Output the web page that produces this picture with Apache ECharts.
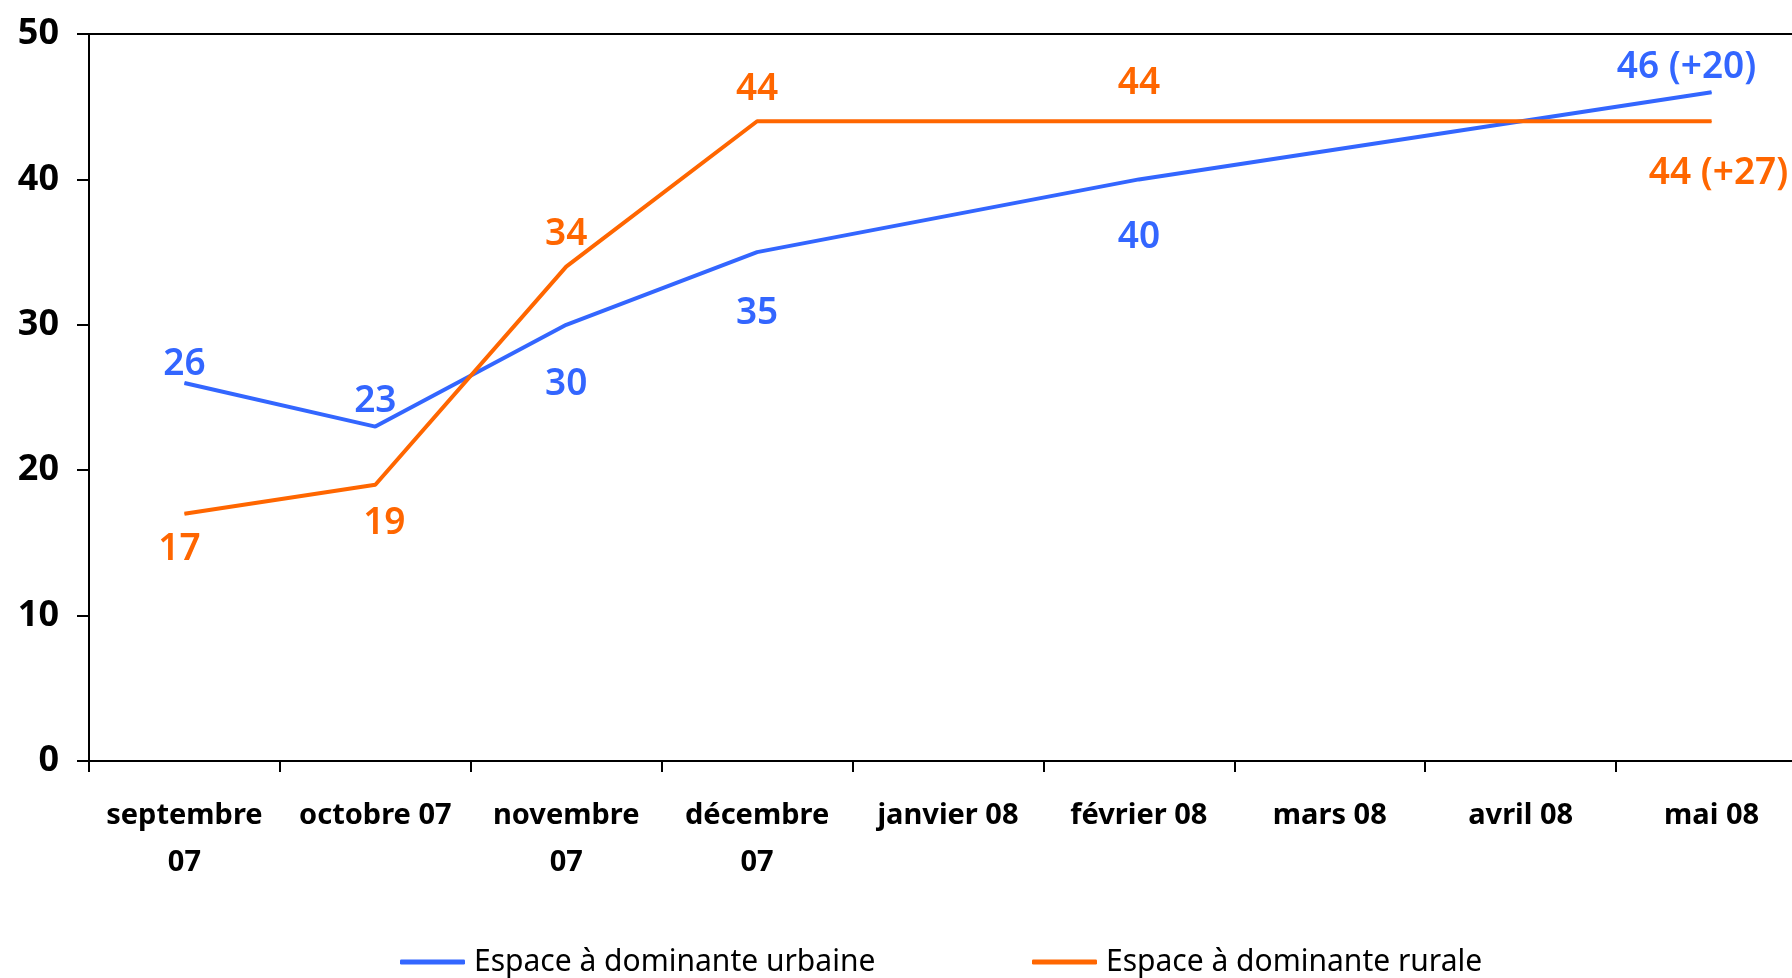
<!DOCTYPE html>
<html>
<head>
<meta charset="utf-8">
<script src="https://cdn.jsdelivr.net/npm/echarts@6/dist/echarts.min.js"></script>
<style>
  html, body { margin: 0; padding: 0; background: #fff; }
  #main { width: 1792px; height: 978px; }
</style>
</head>
<body>
<div id="main"></div>
<script>
var months = ['septembre\n07', 'octobre 07', 'novembre\n07', 'décembre\n07', 'janvier 08',
              'février 08', 'mars 08', 'avril 08', 'mai 08'];
var urbainName = 'Espace à dominante urbaine';
var ruralName = 'Espace à dominante rurale';
// no value for janvier, mars, avril : the line joins the known months
var urbain = [26, 23, 30, 35, null, 40, null, null, 46];
var rural = [17, 19, 34, 44, null, 44, null, null, 44];
var yTicks = [0, 10, 20, 30, 40, 50];

// label placement : [position, distance, x offset]
var urbainLabelPlace = [['top', 0, 0], ['top', 6, 0], ['bottom', 41, 0], ['bottom', 42, 0], null,
                        ['bottom', 39, 0], null, null, ['top', 6, -25]];
var ruralLabelPlace = [['bottom', 17, -5], ['bottom', 20, 9], ['top', 13, 0], ['top', 13, 0], null,
                       ['top', 19, 0], null, null, ['bottom', 33, 7]];

var BLUE = '#3366FF';
var ORANGE = '#FF6600';

function buildData(values, places) {
    return values.map(function (v, i) {
        var p = places[i];
        if (v === null || !p) return v;
        return { value: v, label: { position: p[0], distance: p[1], offset: [p[2], 0] } };
    });
}

function makeFormatter(values) {
    var last = values.length - 1;
    return function (p) {
        if (p.dataIndex === last) {
            return p.value + ' (+' + (p.value - values[0]) + ')';
        }
        return p.value;
    };
}

function makeSeries(name, values, places, color) {
    return {
        name: name,
        type: 'line',
        data: buildData(values, places),
        connectNulls: true,
        symbol: 'circle',
        symbolSize: 1,
        showSymbol: true,
        lineStyle: { color: color, width: 4 },
        itemStyle: { color: color },
        label: {
            show: true,
            color: color,
            fontFamily: 'Noto Sans',
            fontSize: 37,
            fontWeight: 600,
            formatter: makeFormatter(values)
        },
        emphasis: { disabled: true },
        animation: false
    };
}

var legendText = { fontFamily: 'Noto Sans', fontSize: 30, color: '#000', padding: [0, 0, 0, 4] };

var chart = echarts.init(document.getElementById('main'));

chart.setOption({
    backgroundColor: '#fff',
    animation: false,
    grid: {
        left: 89, top: 34, bottom: 217, right: -15,
        outerBoundsMode: 'none',
        containLabel: false,
        show: true, borderColor: '#000', borderWidth: 2
    },
    legend: [{
        data: [urbainName],
        left: 400, top: 947, padding: 0,
        icon: 'roundRect', itemWidth: 65, itemHeight: 5,
        textStyle: legendText
    }, {
        data: [ruralName],
        left: 1032, top: 947, padding: 0,
        icon: 'roundRect', itemWidth: 65, itemHeight: 5,
        textStyle: legendText
    }],
    xAxis: {
        type: 'category',
        data: months,
        boundaryGap: true,
        axisLine: { lineStyle: { color: '#000', width: 2 } },
        axisTick: { show: true, length: 11, lineStyle: { color: '#000', width: 2 } },
        axisLabel: {
            interval: 0,
            margin: 31,
            color: '#000',
            fontFamily: 'Noto Sans',
            fontWeight: 'bold',
            fontSize: 29,
            lineHeight: 47
        },
        splitLine: { show: false }
    },
    yAxis: {
        type: 'value',
        min: yTicks[0],
        max: yTicks[yTicks.length - 1],
        interval: yTicks[1] - yTicks[0],
        axisLine: { show: true, lineStyle: { color: '#000', width: 2 } },
        axisTick: { show: true, length: 12, lineStyle: { color: '#000', width: 2 } },
        axisLabel: {
            margin: 30,
            color: '#000',
            fontFamily: 'Noto Sans',
            fontWeight: 'bold',
            fontSize: 36
        },
        splitLine: { show: false }
    },
    series: [
        makeSeries(urbainName, urbain, urbainLabelPlace, BLUE),
        makeSeries(ruralName, rural, ruralLabelPlace, ORANGE)
    ]
});
</script>
</body>
</html>
